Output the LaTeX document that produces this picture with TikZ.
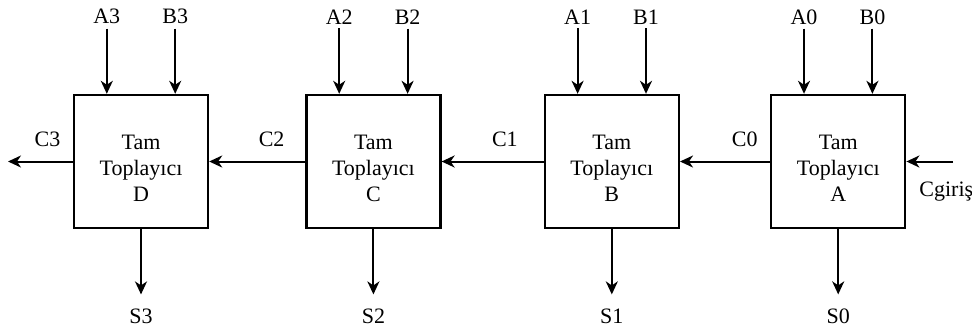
\documentclass[tikz,border=0pt]{standalone}
\usepackage{fontspec}
\setmainfont{Liberation Serif}
\usetikzlibrary{arrows.meta,positioning}

\newcommand{\adder}[1]{\rule{0pt}{14pt}Tam\\Toplayıcı\\#1}

\begin{document}
\begin{tikzpicture}[
    x=0.5pt, y=-0.5pt,
    font=\fontsize{11}{13}\selectfont,
    adder/.style={draw, line width=1.2pt, minimum width=67pt, minimum height=66.5pt, align=center, inner sep=0pt},
    sig/.style={inner sep=2pt},
    arrow/.style={-{Stealth[length=6.5pt, width=6pt, inset=2pt]}, line width=1pt}
  ]
    \useasboundingbox (0,0) rectangle (972,327);

    \node[adder] (d) at (141,161.5) {\adder{D}};
    \node[adder, right=48pt of d] (c) {\adder{C}};
    \node[adder, right=51pt of c] (b) {\adder{B}};
    \node[adder, right=45pt of b] (a) {\adder{A}};

    % inputs and sums
    \foreach \u/\i in {d/3,c/2,b/1,a/0}{
      \node[sig] (A\i) at ([xshift=17pt, yshift=38.5pt]\u.north west) {A\i};
      \node[sig] (B\i) at ([xshift=-17pt, yshift=38.5pt]\u.north east) {B\i};
      \node[sig] (S\i) at ([yshift=-43.5pt]\u.south) {S\i};
      \draw[arrow] (A\i) -- (A\i |- \u.north);
      \draw[arrow] (B\i) -- (B\i |- \u.north);
      \draw[arrow, shorten >=5pt] (\u.south) -- (S\i);
    }

    % carry chain
    \coordinate (cin) at (953,161.5);
    \coordinate (cout) at (8,161.5);
    \draw[arrow] (cin) -- (a.east);
    \node[sig, anchor=west] (cg) at (915,192) {Cgiriş};
    \draw[arrow] (a.west) -- node[sig, pos=0.28, above=5pt] {C0} (b.east);
    \draw[arrow] (b.west) -- node[sig, pos=0.38, above=5pt] {C1} (c.east);
    \draw[arrow] (c.west) -- node[sig, pos=0.35, above=5pt] {C2} (d.east);
    \draw[arrow] (d.west) -- node[sig, pos=0.39, above=5pt] {C3} (cout);
  \end{tikzpicture}
\end{document}
